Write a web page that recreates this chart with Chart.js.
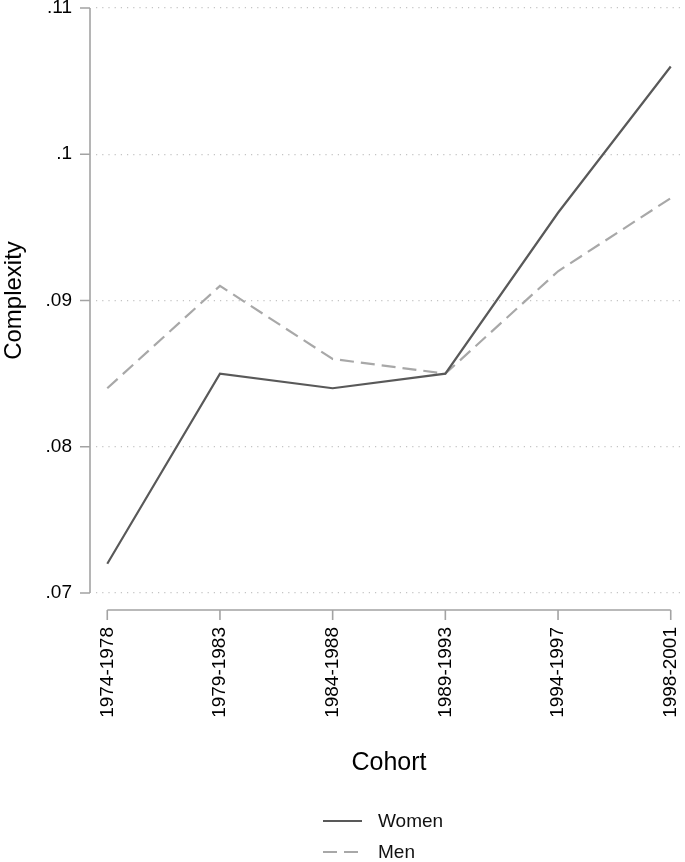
<!DOCTYPE html>
<html>
<head>
<meta charset="utf-8">
<script src="https://cdn.jsdelivr.net/npm/chart.js@4"></script>
<style>
  body { margin: 0; background: #fff; }
  #wrap { width: 685px; height: 862px; }
</style>
</head>
<body>
<div id="wrap"><canvas id="chart"></canvas></div>
<script>
// cohorts on the x axis
const cohorts = ["1974-1978", "1979-1983", "1984-1988", "1989-1993", "1994-1997", "1998-2001"];
// complexity by cohort
const women = [0.072, 0.085, 0.084, 0.085, 0.096, 0.106];
const men = [0.084, 0.091, 0.086, 0.085, 0.092, 0.097];
const yTicks = [0.07, 0.08, 0.09, 0.10, 0.11];

const FONT = "'Liberation Sans', Arial, sans-serif";
const AXIS_GREY = "#a3a3a3";

function toPoints(values) {
  return values.map((v, i) => ({ x: i, y: v }));
}

// stata-style axes sitting a little off the plot region + a one-column legend
const stataAxes = {
  id: "stataAxes",
  afterDraw(chart) {
    const { ctx, chartArea, scales } = chart;
    const xs = scales.x, ys = scales.y;
    ctx.save();
    ctx.strokeStyle = AXIS_GREY;
    ctx.lineWidth = 1.6;

    // y axis
    const ax = chartArea.left - 6;
    ctx.beginPath();
    ctx.moveTo(ax, ys.getPixelForValue(yTicks[yTicks.length - 1]));
    ctx.lineTo(ax, ys.getPixelForValue(yTicks[0]));
    yTicks.forEach(t => {
      const py = ys.getPixelForValue(t);
      ctx.moveTo(ax, py);
      ctx.lineTo(ax - 10, py);
    });
    ctx.stroke();

    // x axis
    const ay = chartArea.bottom + 17;
    ctx.beginPath();
    ctx.moveTo(xs.getPixelForValue(0), ay);
    ctx.lineTo(xs.getPixelForValue(cohorts.length - 1), ay);
    cohorts.forEach((c, i) => {
      const px = xs.getPixelForValue(i);
      ctx.moveTo(px, ay);
      ctx.lineTo(px, ay + 10);
    });
    ctx.stroke();

    // legend
    const cx = (chartArea.left + chartArea.right) / 2;
    const rows = [chart.height - 41, chart.height - 10];
    ctx.font = "19px " + FONT;
    ctx.textBaseline = "middle";
    ctx.textAlign = "left";
    chart.data.datasets.forEach((ds, i) => {
      const y = rows[i];
      ctx.strokeStyle = ds.borderColor;
      ctx.lineWidth = ds.borderWidth;
      ctx.setLineDash(ds.borderDash || []);
      ctx.beginPath();
      ctx.moveTo(cx - 66, y);
      ctx.lineTo(cx - 27, y);
      ctx.stroke();
      ctx.setLineDash([]);
      ctx.fillStyle = "#111";
      ctx.fillText(ds.label, cx - 11, y + 1);
    });
    ctx.restore();
  }
};

new Chart(document.getElementById("chart"), {
  type: "line",
  data: {
    datasets: [
      {
        label: "Women",
        data: toPoints(women),
        borderColor: "#595959",
        borderWidth: 2.2,
        pointRadius: 0,
        tension: 0,
      },
      {
        label: "Men",
        data: toPoints(men),
        borderColor: "#a8a8a8",
        borderWidth: 2.2,
        borderDash: [14, 7],
        pointRadius: 0,
        tension: 0,
      },
    ],
  },
  options: {
    responsive: true,
    maintainAspectRatio: false,
    animation: false,
    layout: { padding: { top: 8, right: 3, bottom: 84, left: 0 } },
    plugins: {
      legend: { display: false },
      tooltip: { enabled: false },
    },
    scales: {
      x: {
        type: "linear",
        min: -0.1,
        max: cohorts.length - 0.9,
        afterBuildTicks: s => { s.ticks = cohorts.map((c, i) => ({ value: i })); },
        afterFit: s => { s.height = 185; s.paddingLeft = 0; s.paddingRight = 0; },
        grid: { display: false, drawTicks: false },
        border: { display: false },
        ticks: {
          autoSkip: false,
          minRotation: 90,
          maxRotation: 90,
          padding: 34,
          color: "#000",
          font: { family: FONT, size: 19 },
          callback: v => cohorts[v],
        },
        title: {
          display: true,
          text: "Cohort",
          color: "#000",
          font: { family: FONT, size: 25 },
          padding: 0,
        },
      },
      y: {
        min: yTicks[0],
        max: yTicks[yTicks.length - 1],
        afterBuildTicks: s => { s.ticks = yTicks.map(v => ({ value: v })); },
        afterFit: s => { s.width = 96; s.paddingTop = 0; s.paddingBottom = 0; },
        grid: { color: "#c4c4c4", lineWidth: 1.2, drawTicks: false },
        border: { display: false, dash: [1.2, 5] },
        ticks: {
          padding: 24,
          color: "#000",
          font: { family: FONT, size: 19 },
          callback: v => String(Math.round(v * 100) / 100).replace(/^0/, ""),
        },
        title: {
          display: true,
          text: "Complexity",
          color: "#000",
          font: { family: FONT, size: 24 },
          padding: 0,
        },
      },
    },
  },
  plugins: [stataAxes],
});
</script>
</body>
</html>
